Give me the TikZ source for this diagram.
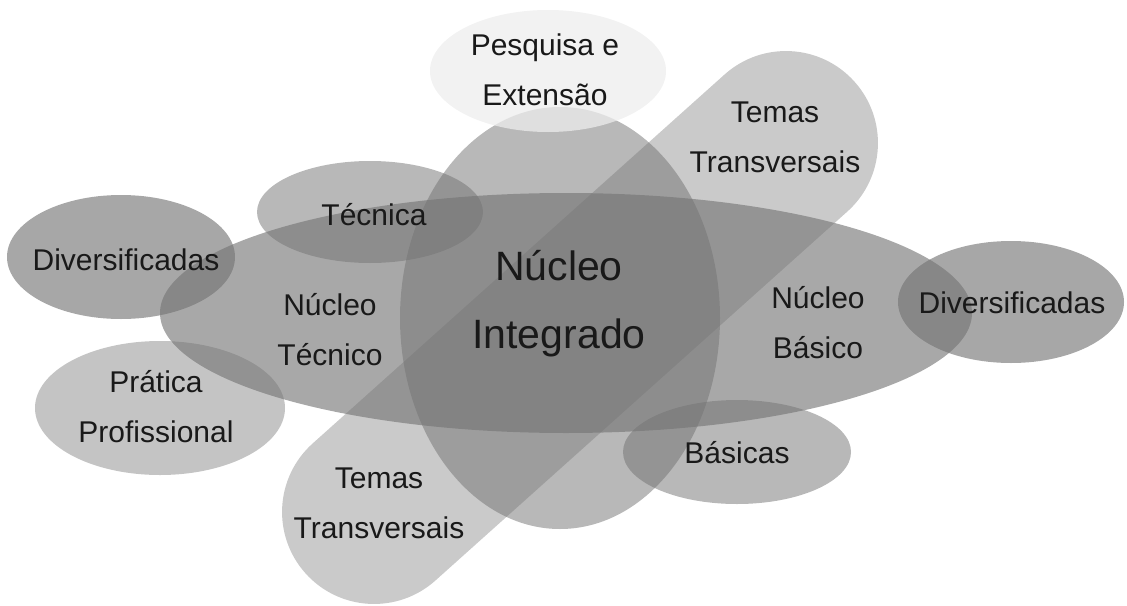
\documentclass[tikz,border=0pt]{standalone}
\usepackage{fontspec}
\setmainfont{Liberation Sans}

\begin{document}
\begin{tikzpicture}[x=1pt,y=1pt,
    blob/.style={fill=black!55,fill opacity=#1},
    lbl/.style={align=center,text=black!90,anchor=base,font=\fontsize{30}{50}\selectfont},
    biglbl/.style={align=center,text=black!90,anchor=base,font=\fontsize{41}{68}\selectfont}]
	    \tikzstyle{every node}+=[inner sep=0pt]
	    \useasboundingbox (0,0) rectangle (1127,-605);
	    % areas
	    \fill [blob=0.51] (560,-318) ellipse (160 and 211);
	    \begin{scope}[shift={(580,-327.5)},rotate=41.85]
	    \fill [blob=0.38] (-276.5,92) arc (90:270:92) -- (276.5,-92) arc (-90:90:92) -- cycle;
	    \end{scope}
	    \fill [blob=0.62] (566,-313) ellipse (406 and 120);
	    \fill [blob=0.51] (370,-212) ellipse (113 and 51);
	    \fill [blob=0.63] (121,-257) ellipse (114 and 62);
	    \fill [blob=0.63] (1011,-302) ellipse (113 and 61);
	    \fill [blob=0.42] (160,-408) ellipse (125 and 67);
	    \fill [blob=0.51] (737,-452) ellipse (114 and 52);
	    \fill [fill=black!7,fill opacity=0.75] (548,-71) ellipse (118 and 61);
	    % labels (base = last line)
	    \node [lbl] (pesq) at (545,-105) {Pesquisa e\\Extens\~ao};
	    \node [lbl] (temasA) at (775,-172) {Temas\\Transversais};
	    \node [lbl] (tecnica) at (374,-225) {T\'ecnica};
	    \node [lbl] (divA) at (126,-270) {Diversificadas};
	    \node [lbl] (nuctec) at (330,-365) {N\'ucleo\\T\'ecnico};
	    \node [biglbl] (nucint) at (559,-348) {N\'ucleo\\Integrado};
	    \node [lbl] (nucbas) at (818,-358) {N\'ucleo\\B\'asico};
	    \node [lbl] (divB) at (1012,-313) {Diversificadas};
	    \node [lbl] (pratica) at (156,-442) {Pr\'atica\\Profissional};
	    \node [lbl] (basicas) at (737,-463) {B\'asicas};
	    \node [lbl] (temasB) at (379,-538) {Temas\\Transversais};
\end{tikzpicture}
\end{document}
